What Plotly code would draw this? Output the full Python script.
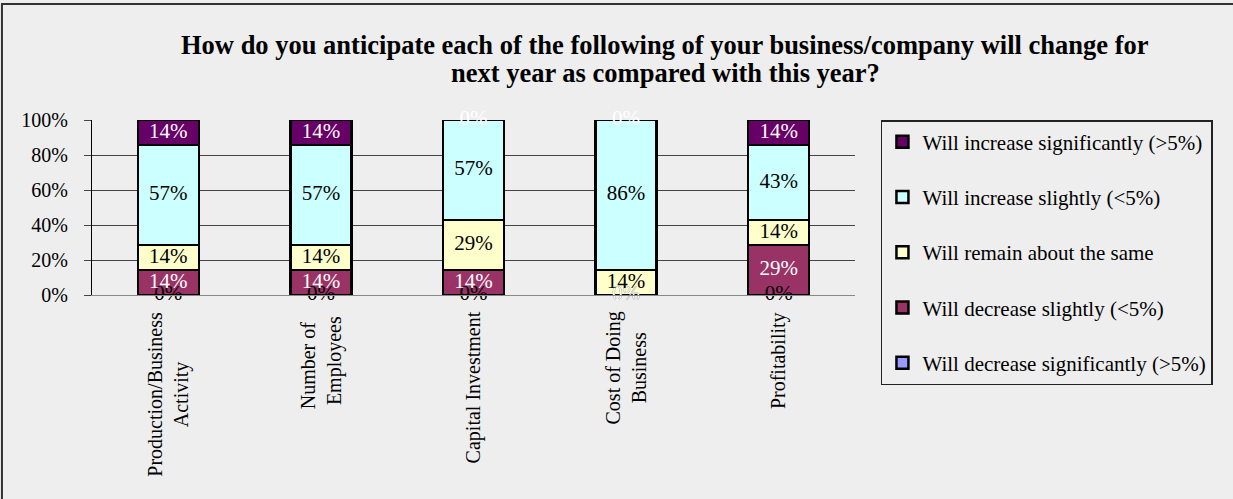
import plotly.graph_objects as go

# Survey question categories (x axis)
categories = [
    "Production/Business<br>Activity",
    "Number of&nbsp;&nbsp;<br>Employees",
    "Capital Investment",
    "Cost of Doing<br>Business",
    "Profitability",
]

# Share of respondents (%) per answer, stacked bottom to top
decrease_significantly = [0, 0, 0, 0, 0]
decrease_slightly = [14.29, 14.29, 14.29, 0, 28.57]
remain_same = [14.29, 14.29, 28.57, 14.29, 14.29]
increase_slightly = [57.14, 57.14, 57.14, 85.71, 42.86]
increase_significantly = [14.29, 14.29, 0, 0, 14.29]

y_ticks = [0, 20, 40, 60, 80, 100]
y_tick_labels = ["0%", "20%", "40%", "60%", "80%", "100%"]

title_lines = [
    "How do you anticipate each of the following of your business/company will change for",
    "next year as compared with this year?",
]

series = [
    ("Will decrease significantly (>5%)", decrease_significantly, "#9999FF", "black"),
    ("Will decrease slightly (<5%)", decrease_slightly, "#993366", "white"),
    ("Will remain about the same", remain_same, "#FFFFCC", "black"),
    ("Will increase slightly (<5%)", increase_slightly, "#CCFFFF", "black"),
    ("Will increase significantly (>5%)", increase_significantly, "#660066", "white"),
]

FONT = "Liberation Serif, Times New Roman, serif"
BG = "#eeeeee"

fig = go.Figure()

n = len(series)
for i, (name, vals, color, _) in enumerate(series):
    fig.add_trace(go.Bar(
        x=categories, y=vals, name=name,
        marker=dict(color=color, line=dict(color="black", width=2.5)),
        width=0.4, legendgroup=f"g{i}", legendrank=n - i,
    ))

# value labels centred on each stacked segment
base = [0.0] * len(categories)
for name, vals, color, tcolor in series:
    mids = [b + v / 2 for b, v in zip(base, vals)]
    fig.add_trace(go.Scatter(
        x=categories, y=mids, mode="text",
        text=[f"{v:.0f}%" for v in vals],
        textfont=dict(family=FONT, size=21, color=tcolor),
        textposition="middle center",
        showlegend=False, hoverinfo="skip", cliponaxis=False,
    ))
    base = [b + v for b, v in zip(base, vals)]

# rotated category labels under the bars
for c in categories:
    fig.add_annotation(
        x=c, xref="x", y=-0.085, yref="paper",
        text=c, textangle=-90, showarrow=False,
        xanchor="center", yanchor="top", align="center",
        font=dict(family=FONT, size=20, color="black"),
    )

# two-line bold title
for line, ypos in zip(title_lines, [1.4286, 1.2686]):
    fig.add_annotation(
        x=0.751, xref="paper", y=ypos, yref="paper",
        text=f"<b>{line}</b>", showarrow=False,
        xanchor="center", yanchor="middle",
        font=dict(family=FONT, size=26.5, color="black"),
    )

# outer frame of the chart area
fig.add_shape(
    type="rect", xref="paper", yref="paper",
    x0=-0.118, x1=1.55, y0=-1.3, y1=1.663,
    line=dict(color="#333333", width=2), fillcolor="rgba(0,0,0,0)", layer="below",
)

fig.update_layout(
    width=1233, height=499,
    margin=dict(l=92, r=378, t=120, b=204),
    paper_bgcolor=BG, plot_bgcolor=BG,
    barmode="stack", bargap=0.6,
    font=dict(family=FONT, size=20, color="black"),
    showlegend=True,
    legend=dict(
        x=1.034, xanchor="left", y=1.0, yanchor="top",
        traceorder="grouped", tracegroupgap=25, maxheight=400,
        bgcolor=BG, bordercolor="#222222", borderwidth=1.5,
        font=dict(family=FONT, size=21, color="black"),
        itemwidth=30,
    ),
    xaxis=dict(
        showticklabels=False, showgrid=False, ticks="",
        showline=True, linecolor="#888888", linewidth=1,
    ),
    yaxis=dict(
        range=[0, 100], tickvals=y_ticks, ticktext=y_tick_labels,
        showgrid=True, gridcolor="#444444", gridwidth=1,
        zeroline=False, showline=True, linecolor="black", linewidth=1,
        ticks="outside", ticklen=7, tickcolor="#444444",
        ticklabelstandoff=12,
        tickfont=dict(family=FONT, size=20, color="black"),
    ),
)

fig.write_html("out.html")
